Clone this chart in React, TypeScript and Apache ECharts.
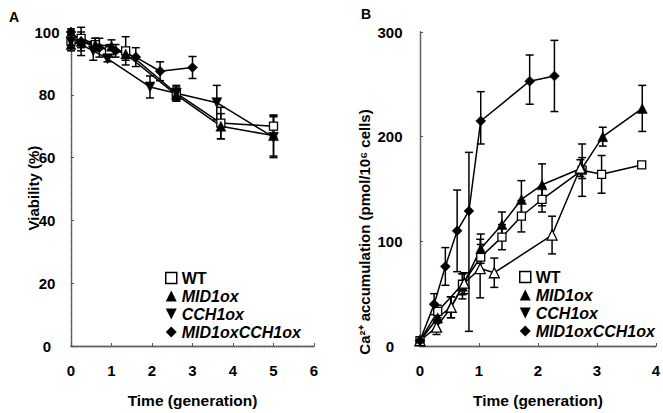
import React, { useEffect, useRef } from "react";
import * as echarts from "echarts";

// ---------- Panel A: viability (%) ----------
const WT_A_X = [0, 0.25, 0.6, 0.95, 1.35, 2.6, 3.7, 5.0];
const WT_A_Y = [97, 98, 96, 94, 94, 80.5, 71, 70];
const WT_A_ERR = [2, 2, 2, 2, 4.5, 2, 5, 3.5];

const MID_A_X = [0, 0.25, 0.6, 1.0, 1.35, 2.6, 3.7, 5.0];
const MID_A_Y = [96, 97, 96, 95.5, 93, 80, 70, 67];
const MID_A_ERR = [2, 4.5, 2, 2, 2, 2, 4, 6.5];

const CCH_A_X = [0, 0.25, 0.55, 0.9, 1.95, 2.6, 3.6, 5.0];
const CCH_A_Y = [97, 96, 94, 91.5, 82.5, 80.5, 77.5, 66.5];
const CCH_A_ERR = [2, 2, 3, 1, 3.5, 2.5, 5.5, 6.5];

const DBL_A_X = [0, 0.25, 0.7, 1.1, 1.6, 2.2, 3.0];
const DBL_A_Y = [100, 97, 95, 94, 92, 87.5, 88.7];
const DBL_A_ERR = [1, 2, 3, 2, 3, 3, 3.5];

// ---------- Panel B: Ca2+ accumulation ----------
const WT_B_X = [0, 0.3, 0.72, 1.03, 1.39, 1.72, 2.07, 2.75, 3.08, 3.76];
const WT_B_Y = [5, 33, 59, 85, 104, 124, 140, 168, 164, 173];
const WT_B_ERR = [0, 6, 10, 12, 12, 15, 12, 25, 18, 2];

const MID_B_X = [0, 0.3, 0.52, 0.72, 1.03, 1.39, 1.72, 2.07, 2.75, 3.1, 3.77];
const MID_B_Y = [5, 27, 37, 57, 93, 116, 140, 154, 170, 200, 227];
const MID_B_ERR = [0, 5, 10, 12, 14, 12, 18, 20, 10, 9, 22];

const CCH_B_X = [0, 0.28, 0.53, 0.75, 1.02, 1.26, 2.24, 2.72];
const CCH_B_Y = [5, 18, 37, 60, 74, 70, 106, 170];
const CCH_B_ERR = [0, 7, 10, 10, 28, 14, 18, 8];

const DBL_B_X = [0, 0.24, 0.43, 0.63, 0.83, 1.03, 1.86, 2.28];
const DBL_B_Y = [5, 40, 76, 110, 129, 215, 253, 258];
const DBL_B_ERR_LO = [0, 10, 18, 39, 115, 22, 22, 34];
const DBL_B_ERR_HI = [0, 10, 18, 39, 56, 28, 25, 34];

const NAMES = ["WT", "MID1ox", "CCH1ox", "MID1oxCCH1ox"];
const X_TICKS_A = [0, 6, 1];
const Y_TICKS_A = [0, 100, 20];
const X_TICKS_B = [0, 4, 1];
const Y_TICKS_B = [0, 300, 100];

const FONT = "'Liberation Sans', Arial, sans-serif";

function lineSeries(
  name: string,
  xs: number[],
  ys: number[],
  grid: number,
  symbol: string,
  open: boolean,
  rotate = 0
) {
  return {
    type: "line",
    name,
    xAxisIndex: grid,
    yAxisIndex: grid,
    data: xs.map((x, i) => [x, ys[i]]),
    symbol,
    symbolRotate: rotate,
    symbolSize: symbol === "rect" ? 8 : 10,
    showAllSymbol: true,
    lineStyle: { color: "#000", width: 1.5 },
    itemStyle: {
      color: open ? "#fff" : "#000",
      borderColor: "#000",
      borderWidth: open ? 1.3 : 0.5,
    },
    z: 5,
  };
}

function errSeries(
  name: string,
  xs: number[],
  ys: number[],
  lo: number[],
  hi: number[],
  grid: number
) {
  return {
    type: "custom",
    name,
    xAxisIndex: grid,
    yAxisIndex: grid,
    data: xs.map((x, i) => [x, ys[i] - lo[i], ys[i] + hi[i]]),
    renderItem: (params: any, api: any) => {
      const x = api.value(0);
      const pLo = api.coord([x, api.value(1)]);
      const pHi = api.coord([x, api.value(2)]);
      const st = { stroke: "#000", lineWidth: 1.5 };
      const c = 4;
      return {
        type: "group",
        children: [
          { type: "line", shape: { x1: pLo[0], y1: pLo[1], x2: pHi[0], y2: pHi[1] }, style: st },
          { type: "line", shape: { x1: pHi[0] - c, y1: pHi[1], x2: pHi[0] + c, y2: pHi[1] }, style: st },
          { type: "line", shape: { x1: pLo[0] - c, y1: pLo[1], x2: pLo[0] + c, y2: pLo[1] }, style: st },
        ],
      };
    },
    z: 3,
  };
}

const legendData = [
  { name: "WT", icon: "rect", itemStyle: { color: "#fff", borderColor: "#000", borderWidth: 1.5 } },
  { name: "MID1ox", icon: "triangle", itemStyle: { color: "#000", borderColor: "#000", borderWidth: 0 } },
  { name: "CCH1ox", icon: "path://M0,0 L10,0 L5,10 Z", itemStyle: { color: "#000", borderColor: "#000", borderWidth: 0 } },
  { name: "MID1oxCCH1ox", icon: "diamond", itemStyle: { color: "#000", borderColor: "#000", borderWidth: 0 } },
];

function makeLegend(left: number, top: number) {
  return {
    orient: "vertical",
    left,
    top,
    data: legendData,
    itemWidth: 11,
    itemHeight: 11,
    itemGap: 2,
    selectedMode: false,
    formatter: (n: string) => (n === "WT" ? `{n|${n}}` : `{i|${n}}`),
    textStyle: {
      color: "#000",
      rich: {
        n: { fontFamily: FONT, fontWeight: "bold", fontSize: 16, color: "#000", lineHeight: 16.5 },
        i: { fontFamily: FONT, fontWeight: "bold", fontStyle: "italic", fontSize: 16, color: "#000", lineHeight: 16.5 },
      },
    },
  };
}

const labelStyle = { color: "#000", fontFamily: FONT, fontWeight: "bold", fontSize: 15 };
const nameStyle = { color: "#000", fontFamily: FONT, fontWeight: "bold", fontSize: 15 };

function valueX(grid: number, t: number[]) {
  return {
    type: "value",
    gridIndex: grid,
    min: t[0],
    max: t[1],
    interval: t[2],
    name: "Time (generation)",
    nameLocation: "middle",
    nameGap: 46,
    nameTextStyle: { ...nameStyle, fontSize: 15.5 },
    axisLine: { show: true, lineStyle: { color: "#000", width: 1.3 } },
    axisTick: { show: true, inside: true, length: 3, lineStyle: { color: "#555" } },
    axisLabel: { ...labelStyle, margin: 17 },
    splitLine: { show: false },
  };
}

function valueY(grid: number, t: number[], name: string, gap: number, margin: number) {
  return {
    type: "value",
    gridIndex: grid,
    min: t[0],
    max: t[1],
    interval: t[2],
    name,
    nameLocation: "middle",
    nameGap: gap,
    nameTextStyle: nameStyle,
    axisLine: { show: true, lineStyle: { color: "#000", width: 1.3 } },
    axisTick: { show: true, inside: true, length: 3, lineStyle: { color: "#555" } },
    axisLabel: { ...labelStyle, margin, align: "center" },
    splitLine: { show: false },
  };
}

function decoX(grid: number, t: number[]) {
  return {
    type: "value", gridIndex: grid, position: "top", min: t[0], max: t[1], interval: t[2],
    axisLine: { show: true, lineStyle: { color: "#777", width: 1, type: "dotted" } },
    axisTick: { show: false }, axisLabel: { show: false }, splitLine: { show: false },
  };
}
function decoY(grid: number, t: number[]) {
  return {
    type: "value", gridIndex: grid, position: "right", min: t[0], max: t[1], interval: t[2],
    axisLine: { show: true, lineStyle: { color: "#777", width: 1, type: "dotted" } },
    axisTick: { show: false }, axisLabel: { show: false }, splitLine: { show: false },
  };
}

export default function App() {
  const ref = useRef<HTMLDivElement>(null);
  useEffect(() => {
    if (!ref.current) return;
    const chart = echarts.init(ref.current, null, { renderer: "svg" });
    chart.setOption({
      animation: false,
      backgroundColor: "#fff",
      grid: [
        { left: 71, top: 32, width: 243, height: 317 },
        { left: 420, top: 32, width: 240, height: 317 },
      ],
      xAxis: [valueX(0, X_TICKS_A), valueX(1, X_TICKS_B), decoX(0, X_TICKS_A), decoX(1, X_TICKS_B)],
      yAxis: [
        { ...valueY(0, Y_TICKS_A, "", 27, 24), name: "" },
        { ...valueY(1, Y_TICKS_B, "", 48, 30), name: "" },
        decoY(0, Y_TICKS_A),
        decoY(1, Y_TICKS_B),
      ],
      legend: [makeLegend(160, 265), makeLegend(514, 264)],
      graphic: [
        { type: "text", left: 9, top: 10, style: { text: "A", font: `bold 14px ${FONT}`, fill: "#000" } },
        { type: "text", left: 361, top: 7, style: { text: "B", font: `bold 14px ${FONT}`, fill: "#000" } },
        {
          type: "text",
          x: 33,
          y: 188,
          rotation: Math.PI / 2,
          style: {
            text: "Viability (%)",
            font: `bold 15px ${FONT}`,
            fill: "#000",
            align: "center",
            verticalAlign: "middle",
          },
        },
        {
          type: "text",
          x: 364,
          y: 232,
          rotation: Math.PI / 2,
          style: {
            text: "Ca²⁺ accumulation (pmol/10⁶ cells)",
            font: `bold 15px ${FONT}`,
            fill: "#000",
            align: "center",
            verticalAlign: "middle",
          },
        },
      ],
      series: [
        errSeries(NAMES[0], WT_A_X, WT_A_Y, WT_A_ERR, WT_A_ERR, 0),
        errSeries(NAMES[1], MID_A_X, MID_A_Y, MID_A_ERR, MID_A_ERR, 0),
        errSeries(NAMES[2], CCH_A_X, CCH_A_Y, CCH_A_ERR, CCH_A_ERR, 0),
        errSeries(NAMES[3], DBL_A_X, DBL_A_Y, DBL_A_ERR, DBL_A_ERR, 0),
        lineSeries(NAMES[0], WT_A_X, WT_A_Y, 0, "rect", true),
        lineSeries(NAMES[1], MID_A_X, MID_A_Y, 0, "triangle", false),
        lineSeries(NAMES[2], CCH_A_X, CCH_A_Y, 0, "triangle", false, 180),
        lineSeries(NAMES[3], DBL_A_X, DBL_A_Y, 0, "diamond", false),

        errSeries(NAMES[0], WT_B_X, WT_B_Y, WT_B_ERR, WT_B_ERR, 1),
        errSeries(NAMES[1], MID_B_X, MID_B_Y, MID_B_ERR, MID_B_ERR, 1),
        errSeries(NAMES[2], CCH_B_X, CCH_B_Y, CCH_B_ERR, CCH_B_ERR, 1),
        errSeries(NAMES[3], DBL_B_X, DBL_B_Y, DBL_B_ERR_LO, DBL_B_ERR_HI, 1),
        lineSeries(NAMES[0], WT_B_X, WT_B_Y, 1, "rect", true),
        lineSeries(NAMES[1], MID_B_X, MID_B_Y, 1, "triangle", false),
        lineSeries(NAMES[2], CCH_B_X, CCH_B_Y, 1, "triangle", true),
        lineSeries(NAMES[3], DBL_B_X, DBL_B_Y, 1, "diamond", false),
      ],
    });
    return () => chart.dispose();
  }, []);
  return (
    <div
      ref={ref}
      style={{ position: "fixed", left: 0, top: 0, width: 663, height: 413, background: "#fff" }}
    />
  );
}
